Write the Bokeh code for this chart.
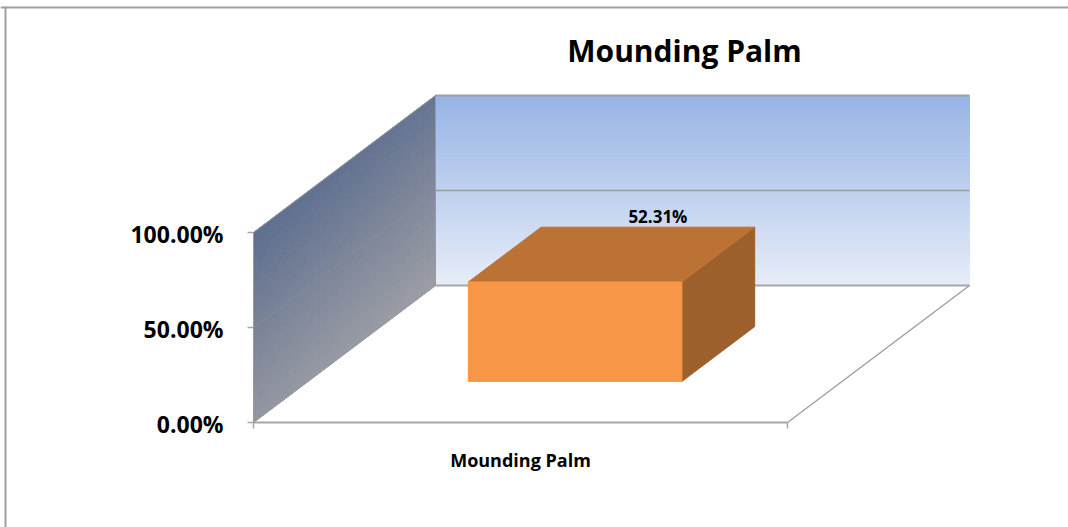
from bokeh.plotting import figure
from bokeh.models import Range1d, Label
from bokeh.core.properties import value
from bokeh.embed import file_html
from bokeh.resources import INLINE

# ---- data ----
categories = ["Mounding Palm"]
values = [0.5231]
value_labels = ["52.31%"]
tick_values = [0.0, 0.5, 1.0]
tick_labels = ["0.00%", "50.00%", "100.00%"]
title_text = "Mounding Palm"

# ---- layout (pixels) ----
W, H = 1068, 527
PX_X = 534.0          # pixels per category unit
PX_Y = 190.0          # pixels per 100 %
X0, Y0 = 253.0, 422.0  # screen col / row of the front-left-bottom corner
DX = 182.0 / PX_X     # oblique depth shift (x units per unit depth)
DY = 137.0 / PX_Y     # oblique depth shift (value units per unit depth)
FONT = value("Open Sans")
GRAY = "#a6a6a6"


def proj(x, y, z):
    return x + z * DX, y + z * DY


def mix(c1, c2, t):
    t = max(0.0, min(1.0, t))
    return "#%02x%02x%02x" % tuple(int(round(a + (b - a) * t)) for a, b in zip(c1, c2))


p = figure(width=W, height=H,
           x_range=Range1d(-X0 / PX_X, (W - X0) / PX_X),
           y_range=Range1d((Y0 - H) / PX_Y, Y0 / PX_Y),
           output_backend="svg", toolbar_location=None,
           x_axis_location=None, y_axis_location=None,
           min_border=0)
p.grid.visible = False
p.outline_line_color = None
p.background_fill_color = "white"
p.border_fill_color = "white"

ncat = len(categories)
ymax = max(tick_values)

# ---- back wall (vertical gradient bands) ----
NB = 60
xs, ys, cols = [], [], []
for j in range(NB):
    y0, y1 = ymax * j / NB, ymax * (j + 1) / NB
    pts = [proj(0, y0, 1), proj(ncat, y0, 1), proj(ncat, y1, 1), proj(0, y1, 1)]
    xs.append([q[0] for q in pts]); ys.append([q[1] for q in pts])
    cols.append(mix((231, 237, 248), (151, 180, 229), (j + 0.5) / NB))
p.patches(xs, ys, fill_color=cols, line_color=cols, line_width=1)

# ---- left wall (gradient grid) ----
NG = 30
xs, ys, cols = [], [], []
for i in range(NG):
    for j in range(NG):
        z0, z1 = i / NG, (i + 1) / NG
        y0, y1 = ymax * j / NG, ymax * (j + 1) / NG
        pts = [proj(0, y0, z0), proj(0, y0, z1), proj(0, y1, z1), proj(0, y1, z0)]
        xs.append([q[0] for q in pts]); ys.append([q[1] for q in pts])
        zc, yc = (z0 + z1) / 2, (y0 + y1) / 2 / ymax
        t = 0.85 * (1 - yc) + 0.15 * zc
        cols.append(mix((94, 110, 143), (156, 158, 165), t))
p.patches(xs, ys, fill_color=cols, line_color=cols, line_width=1)

# left wall outline
wall = [proj(0, 0, 0), proj(0, 0, 1), proj(0, ymax, 1), proj(0, ymax, 0), proj(0, 0, 0)]
p.line([q[0] for q in wall], [q[1] for q in wall], line_color="#9a9a9a", line_width=1)

# ---- gridlines on walls ----
for tv in tick_values[1:-1]:
    a, b = proj(0, tv, 0), proj(0, tv, 1)
    p.line([a[0], b[0]], [a[1], b[1]], line_color="#8a8c90", line_width=1)
    a, b = proj(0, tv, 1), proj(ncat, tv, 1)
    p.line([a[0], b[0]], [a[1], b[1]], line_color="#9c9c9c", line_width=1.5)
a, b = proj(0, ymax, 1), proj(ncat, ymax, 1)
p.line([a[0], b[0]], [a[1], b[1]], line_color="#a0a0a0", line_width=2)

# ---- floor edges ----
a, b = proj(0, 0, 1), proj(ncat, 0, 1)
p.line([a[0], b[0]], [a[1], b[1]], line_color=GRAY, line_width=2)
a, b = proj(0, 0, 0), proj(ncat, 0, 0)
p.line([a[0], b[0]], [a[1], b[1]], line_color=GRAY, line_width=2)
a, b = proj(ncat, 0, 0), proj(ncat, 0, 1)
p.line([a[0], b[0]], [a[1], b[1]], line_color="#999999", line_width=1.2)

# ---- bars ----
ZF, ZB = 0.30, 0.70
for i, v in enumerate(values):
    xl, xr = i + 0.30, i + 0.70
    front = [proj(xl, 0, ZF), proj(xr, 0, ZF), proj(xr, v, ZF), proj(xl, v, ZF)]
    top = [proj(xl, v, ZF), proj(xr, v, ZF), proj(xr, v, ZB), proj(xl, v, ZB)]
    side = [proj(xr, 0, ZF), proj(xr, 0, ZB), proj(xr, v, ZB), proj(xr, v, ZF)]
    for poly, c in ((side, "#9d5f2c"), (top, "#bd7235"), (front, "#f79646")):
        p.patch([q[0] for q in poly], [q[1] for q in poly],
                fill_color=c, line_color=c, line_width=1)
    lx, ly = proj(i + 0.5, v, ZB)
    p.text(x=[lx], y=[ly], text=[value_labels[i]], text_font=FONT,
           text_font_style="bold", text_font_size="17px", text_color="#000000",
           text_align="center", text_baseline="alphabetic",
           x_offset=10, y_offset=-11)
    p.text(x=[i + 0.5], y=[0], text=[categories[i]], text_font=FONT,
           text_font_style="bold", text_font_size="18px", text_color="#000000",
           text_align="center", text_baseline="alphabetic", y_offset=37)

# ---- value axis ticks and labels ----
for tv, tl in zip(tick_values, tick_labels):
    p.line([-6 / PX_X, 0], [tv, tv], line_color=GRAY, line_width=1.5)
p.text(x=[0] * len(tick_values), y=tick_values, text=tick_labels, text_font=FONT,
       text_font_style="bold", text_font_size="23px", text_color="#000000",
       text_align="right", text_baseline="middle", x_offset=-30, y_offset=1)

# ---- category axis ticks ----
for k in range(ncat + 1):
    p.line([k, k], [0, -6 / PX_Y], line_color=GRAY, line_width=1.5)

# ---- chart border (top and left) ----
xa, xb = p.x_range.start, p.x_range.end
ya, yb = p.y_range.start, p.y_range.end
p.line([xa, xb], [yb - 7 / PX_Y, yb - 7 / PX_Y], line_color="#a0a0a0", line_width=2)
p.line([xa + 5 / PX_X, xa + 5 / PX_X], [ya, yb - 6 / PX_Y], line_color="#a0a0a0", line_width=2)

# ---- title ----
p.add_layout(Label(x=684, y=H - 50, x_units="screen", y_units="screen",
                   text=title_text, text_font="Open Sans", text_font_style="bold",
                   text_font_size="30px", text_color="#000000",
                   text_align="center", text_baseline="alphabetic"))

open("out.html", "w").write(file_html(p, INLINE))
